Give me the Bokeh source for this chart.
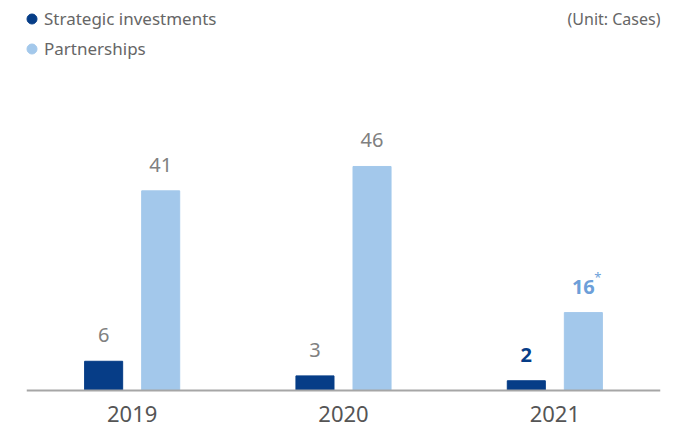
from bokeh.plotting import figure
from bokeh.models import ColumnDataSource, Range1d, FactorRange, Legend, LegendItem, Label, Span
from bokeh.transform import dodge
from bokeh.core.properties import value
from bokeh.embed import file_html
from bokeh.resources import INLINE

years = ["2019", "2020", "2021"]
strategic = [6, 3, 2]
partnerships = [41, 46, 16]
strategic_labels = ["6", "3", "2"]
partner_labels = ["41", "46", "16"]
legend_names = ["Strategic investments", "Partnerships"]
unit_text = "(Unit: Cases)"

DARK = "#063d87"
LIGHT = "#a3c8eb"
MID = "#6d9fd9"
GRAY = "#666666"
LGRAY = "#808080"
FONT = "Noto Sans"

W, H = 687, 426
BASE = 390          # pixel row of the baseline
PX = 4.87           # pixels per case

src = ColumnDataSource(dict(
    years=years, strategic=strategic, partnerships=partnerships,
    s_lab=strategic_labels, p_lab=partner_labels,
    s_col=[LGRAY, LGRAY, DARK], p_col=[LGRAY, LGRAY, MID],
    s_wt=["normal", "normal", "bold"], p_wt=["normal", "normal", "bold"],
))

p = figure(x_range=FactorRange(*years),
           y_range=Range1d(-(H - BASE) / PX, BASE / PX),
           width=W, height=H, output_backend="svg", toolbar_location=None,
           x_axis_location=None, y_axis_location=None,
           min_border_left=26, min_border_right=27, min_border_top=0,
           min_border_bottom=0)
p.outline_line_color = None
p.grid.visible = False
p.x_range.range_padding = 0.0

p.vbar(x=dodge("years", -0.135, range=p.x_range), top="strategic", width=0.18,
       source=src, color=DARK)
p.vbar(x=dodge("years", 0.135, range=p.x_range), top="partnerships", width=0.18,
       source=src, color=LIGHT)

# baseline
p.add_layout(Span(location=0, dimension="width", line_color="#a6a6a6", line_width=2))

# category labels
p.text(x="years", y=0, text="years", source=src, text_align="center",
       text_baseline="alphabetic", y_offset=23, text_font=value(FONT),
       text_font_size="22px", text_color="#555555")

p.text(x=dodge("years", -0.135, range=p.x_range), y="strategic", text="s_lab",
       source=src, text_align="center", text_baseline="alphabetic", y_offset=-26,
       text_font=value(FONT), text_font_size="20px", text_color="s_col",
       text_font_style="s_wt")
p.text(x=dodge("years", 0.135, range=p.x_range), y="partnerships", text="p_lab",
       source=src, text_align="center", text_baseline="alphabetic", y_offset=-26,
       text_font=value(FONT), text_font_size="20px", text_color="p_col",
       text_font_style="p_wt")

# superscript asterisk for the 2021 partnerships value
star_src = ColumnDataSource(dict(years=[years[2]], v=[partnerships[2]], t=["*"]))
p.text(x=dodge("years", 0.135, range=p.x_range), y="v", text="t", source=star_src,
       text_align="left", text_baseline="top", x_offset=11, y_offset=-45,
       text_font=value(FONT), text_font_size="13px", text_color=MID)

# legend
nan = float("nan")
r1 = p.scatter(x=[nan], y=[nan], marker="circle", size=11, color=DARK)
r2 = p.scatter(x=[nan], y=[nan], marker="circle", size=11, color=LIGHT)
legend = Legend(items=[LegendItem(label=legend_names[0], renderers=[r1]),
                       LegendItem(label=legend_names[1], renderers=[r2])],
                location=(-7, 365), margin=0, padding=0, spacing=5,
                glyph_width=25, glyph_height=25, label_standoff=-2,
                label_text_font=FONT, label_text_font_size="17px",
                label_text_color=GRAY, label_height=20,
                background_fill_alpha=0, border_line_color=None)
p.add_layout(legend)

p.add_layout(Label(x=3, y=(BASE - 18) / PX, text=unit_text, text_align="right",
                   text_baseline="middle", text_font=FONT,
                   text_font_size="16px", text_color=GRAY))

open("out.html", "w").write(file_html(p, INLINE))
